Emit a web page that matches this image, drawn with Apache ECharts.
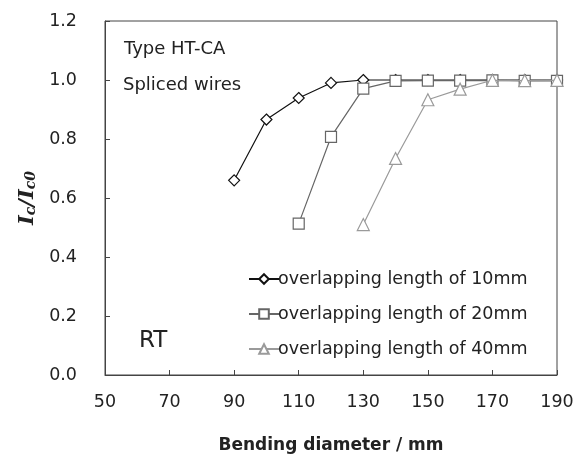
<!DOCTYPE html>
<html><head><meta charset="utf-8">
<script src="https://cdn.jsdelivr.net/npm/echarts@6/dist/echarts.min.js"></script>
<style>html,body{margin:0;padding:0;background:#fff}#c{width:581px;height:459px}</style>
</head><body><div id="c"></div>
<script>
var xTicks = [50, 70, 90, 110, 130, 150, 170, 190];
var yTicks = [0.0, 0.2, 0.4, 0.6, 0.8, 1.0, 1.2];
var x10 = [90, 100, 110, 120, 130, 140, 150, 160, 170, 180, 190];
var y10 = [0.66, 0.866, 0.939, 0.99, 1.0, 1.0, 1.0, 1.0, 1.0, 1.0, 1.0];
var x20 = [110, 120, 130, 140, 150, 160, 170, 180, 190];
var y20 = [0.513, 0.807, 0.971, 0.997, 0.998, 0.998, 0.999, 0.997, 0.997];
var x40 = [130, 140, 150, 160, 170, 180, 190];
var y40 = [0.51, 0.734, 0.933, 0.969, 0.999, 0.998, 0.999];
var names = ['overlapping length of 10mm', 'overlapping length of 20mm', 'overlapping length of 40mm'];

function pairs(xs, ys) { return xs.map(function (x, i) { return [x, ys[i]]; }); }
var FONT = 'DejaVu Sans';
var chart = echarts.init(document.getElementById('c'));
var txt = '#222';
chart.setOption({
  animation: false,
  backgroundColor: '#fff',
  textStyle: { fontFamily: FONT },
  grid: { left: 105, right: 24, top: 21, bottom: 80, show: true, borderColor: '#444', borderWidth: 1 },
  xAxis: {
    type: 'value', min: xTicks[0], max: xTicks[xTicks.length - 1], interval: 20,
    name: 'Bending diameter / mm', nameLocation: 'middle', nameGap: 62,
    nameTextStyle: { fontFamily: FONT, fontSize: 17, fontWeight: 'bold', color: txt },
    axisLine: { lineStyle: { color: '#444', width: 1 } },
    axisTick: { inside: true, length: 5, lineStyle: { color: '#444' } },
    axisLabel: { fontFamily: FONT, fontSize: 17.5, color: txt, margin: 18 },
    splitLine: { show: false }
  },
  yAxis: {
    type: 'value', min: yTicks[0], max: yTicks[yTicks.length - 1], interval: 0.2,
    name: '{i|I}{s|c}{i|/I}{s|c0}', nameLocation: 'middle', nameGap: 66, nameRotate: 90,
    nameTextStyle: {
      rich: {
        i: { fontFamily: 'DejaVu Serif', fontStyle: 'italic', fontWeight: 'bold', fontSize: 21, color: txt, verticalAlign: 'bottom', lineHeight: 26 },
        s: { fontFamily: 'DejaVu Serif', fontStyle: 'italic', fontWeight: 'bold', fontSize: 14, color: txt, verticalAlign: 'bottom', lineHeight: 18 }
      }
    },
    axisLine: { lineStyle: { color: '#444', width: 1 } },
    axisTick: { inside: true, length: 5, lineStyle: { color: '#444' } },
    axisLabel: { fontFamily: FONT, fontSize: 17.5, color: txt, margin: 28, formatter: function (v) { return v.toFixed(1); } },
    splitLine: { show: false }
  },
  legend: {
    orient: 'vertical', left: 243, top: 265, itemGap: 17, itemWidth: 30, itemHeight: 12,
    textStyle: { fontFamily: FONT, fontSize: 17.5, color: txt, padding: [0, 0, 0, -6] },
    data: names
  },
  graphic: [
    { type: 'text', left: 124, top: 40, style: { text: 'Type HT-CA', font: '18px "DejaVu Sans"', fill: txt } },
    { type: 'text', left: 123, top: 76, style: { text: 'Spliced wires', font: '18px "DejaVu Sans"', fill: txt } },
    { type: 'text', left: 139, top: 330, style: { text: 'RT', font: '23px "DejaVu Sans"', fill: txt } }
  ],
  series: [
    { name: names[0], type: 'line', data: pairs(x10, y10), symbol: 'diamond', symbolSize: 11,
      lineStyle: { color: '#111', width: 1.2 }, itemStyle: { color: '#fff', borderColor: '#111', borderWidth: 1.2 }, z: 3 },
    { name: names[1], type: 'line', data: pairs(x20, y20), symbol: 'rect', symbolSize: 11,
      lineStyle: { color: '#666', width: 1.2 }, itemStyle: { color: '#fff', borderColor: '#666', borderWidth: 1.2 }, z: 4 },
    { name: names[2], type: 'line', data: pairs(x40, y40), symbol: 'triangle', symbolSize: 12,
      lineStyle: { color: '#9a9a9a', width: 1.2 }, itemStyle: { color: '#fff', borderColor: '#9a9a9a', borderWidth: 1.2 }, z: 5 }
  ]
});
</script></body></html>
